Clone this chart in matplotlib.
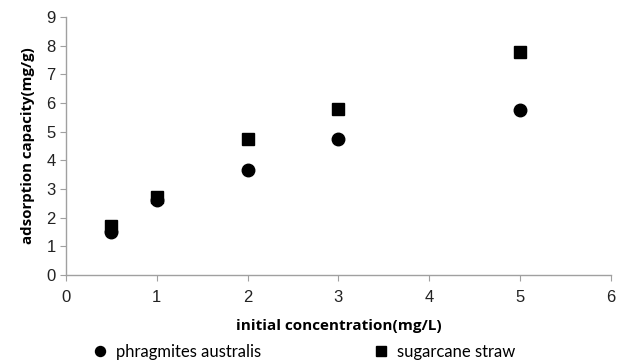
import matplotlib
matplotlib.use('Agg')
import matplotlib.pyplot as plt

# données
conc = [0.5, 1, 2, 3, 5]
phragmites = [1.5, 2.6, 3.67, 4.73, 5.75]
sugarcane = [1.72, 2.73, 4.73, 5.78, 7.77]

fig = plt.figure(figsize=(6.17, 3.63), dpi=100)
ax = fig.add_axes([0.107, 0.2424, 0.883, 0.7106])

ax.plot(conc, phragmites, linestyle='none', marker='o', markersize=9,
        color='black', label='phragmites australis')
ax.plot(conc, sugarcane, linestyle='none', marker='s', markersize=8.5,
        color='black', label='sugarcane straw')

ax.set_xlim(0, 6)
ax.set_ylim(0, 9)
ax.set_xticks(range(0, 7))
ax.set_yticks(range(0, 10))

for s in ['top', 'right']:
    ax.spines[s].set_visible(False)
for s in ['left', 'bottom']:
    ax.spines[s].set_color('#a0a0a0')
    ax.spines[s].set_linewidth(1.0)
ax.tick_params(axis='both', direction='out', length=4, color='#a0a0a0',
               labelsize=12, labelcolor='#222222')
ax.tick_params(axis='x', pad=7)
for lab in ax.get_xticklabels() + ax.get_yticklabels():
    lab.set_fontfamily('Liberation Sans')

ax.set_xlabel('initial concentration(mg/L)', fontsize=11, fontweight='bold',
              family='Open Sans', labelpad=10)
ax.set_ylabel('adsorption capacity(mg/g)', fontsize=10.8, fontweight='bold',
              family='Open Sans', labelpad=8)

# légende en bas, deux colonnes
fig.legend(loc='center left', bbox_to_anchor=(92 / 617, 11 / 363), ncol=2,
           frameon=False, prop={'family': 'Lato', 'size': 12},
           borderpad=0, borderaxespad=0, markerscale=0.8,
           columnspacing=6.7, handletextpad=0.45, handlelength=1.0)

fig.savefig('out.png', dpi=100)
